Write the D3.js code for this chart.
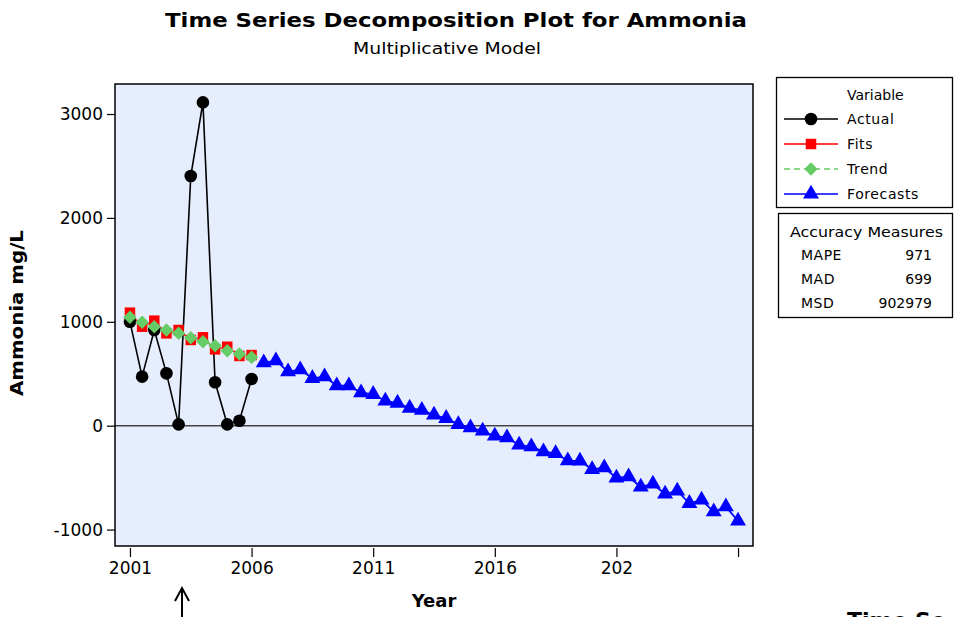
<!DOCTYPE html>
<html>
<head>
<meta charset="utf-8">
<script src="https://cdn.jsdelivr.net/npm/d3@7/dist/d3.min.js"></script>
<style>
  body { margin: 0; background: #fff; }
  text { font-family: "DejaVu Sans", sans-serif; fill: #000; }
</style>
</head>
<body>
<div id="chart"></div>
<script>
// semiannual index, 1 = first half 2001
var tickIdx = [1, 11, 21, 31, 41, 51];
var tickLabels = ["2001", "2006", "2011", "2016", "202", ""];
var yTicks = [-1000, 0, 1000, 2000, 3000];

var actual = [1000, 472, 921, 504, 13, 2403, 3112, 418, 13, 48, 449];
var fits = [1088, 953, 1011, 889, 921, 825, 851, 735, 760, 671, 680];
var trend = [1043, 995, 953, 921, 889, 847, 808, 770, 722, 690, 658];
var forecasts = [606, 626, 520, 539, 456, 472, 385, 385, 318, 302, 238, 218, 170, 150,
                 103, 71, 13, -19, -51, -99, -115, -186, -202, -250, -266, -337, -340,
                 -420, -404, -503, -491, -590, -561, -657, -628, -747, -715, -828, -780, -917];

var accNames = ["MAPE", "MAD", "MSD"];
var accValues = ["971", "699", "902979"];

var myChart = {};
(function(context) {

    var W = 955, H = 617;
    var plot = { left: 115, right: 753, top: 84, bottom: 546 };

    var svg = d3.select("#chart").append("svg")
        .attr("width", W)
        .attr("height", H);

    var x = d3.scaleLinear().domain([-0.23, 52.23]).range([plot.left, plot.right]);
    var y = d3.scaleLinear().domain([-1158, 3289]).range([plot.bottom, plot.top]);

    function toPts(arr, start) {
        return arr.map(function(v, i) { return { i: start + i, v: v }; });
    }
    var actPts = toPts(actual, 1);
    var fitPts = toPts(fits, 1);
    var trdPts = toPts(trend, 1);
    var fcPts = toPts(forecasts, 12);

    // titles
    svg.append("text").attr("x", 456).attr("y", 27)
        .attr("text-anchor", "middle")
        .style("font-size", "20px").style("font-weight", "bold")
        .attr("textLength", 582).attr("lengthAdjust", "spacingAndGlyphs")
        .text("Time Series Decomposition Plot for Ammonia");
    svg.append("text").attr("x", 447).attr("y", 54)
        .attr("text-anchor", "middle")
        .style("font-size", "16px")
        .attr("textLength", 188).attr("lengthAdjust", "spacingAndGlyphs")
        .text("Multiplicative Model");

    // plot background
    svg.append("rect")
        .attr("x", plot.left).attr("y", plot.top)
        .attr("width", plot.right - plot.left)
        .attr("height", plot.bottom - plot.top)
        .attr("fill", "#e6eefe");

    // zero reference
    svg.append("line")
        .attr("x1", plot.left).attr("x2", plot.right)
        .attr("y1", y(0)).attr("y2", y(0))
        .attr("stroke", "#444").attr("stroke-width", 1.5);

    // axes
    var yAxis = d3.axisLeft(y).tickValues(yTicks).tickSize(8).tickPadding(4)
        .tickFormat(function(d) { return String(d); });
    var gy = svg.append("g").attr("transform", "translate(" + plot.left + ",0)").call(yAxis);
    gy.select(".domain").remove();
    gy.selectAll("line").attr("stroke", "#000").attr("stroke-width", 1.2);
    gy.selectAll("text").style("font-size", "17px").style("font-family", "DejaVu Sans, sans-serif");

    var xAxis = d3.axisBottom(x).tickValues(tickIdx).tickSize(9).tickPadding(5)
        .tickFormat(function(d, i) { return tickLabels[i]; });
    var gx = svg.append("g").attr("transform", "translate(0," + (plot.bottom + 2) + ")").call(xAxis);
    gx.select(".domain").remove();
    gx.selectAll("line").attr("stroke", "#000").attr("stroke-width", 1.2);
    gx.selectAll("text").style("font-size", "17px").style("font-family", "DejaVu Sans, sans-serif");

    // axis titles
    svg.append("text").attr("x", 434).attr("y", 607)
        .attr("text-anchor", "middle")
        .style("font-size", "18px").style("font-weight", "bold")
        .text("Year");
    svg.append("text")
        .attr("transform", "translate(23,313) rotate(-90)")
        .attr("text-anchor", "middle")
        .style("font-size", "17px").style("font-weight", "bold")
        .attr("textLength", 166).attr("lengthAdjust", "spacingAndGlyphs")
        .text("Ammonia mg/L");

    var line = d3.line()
        .x(function(d) { return x(d.i); })
        .y(function(d) { return y(d.v); });

    // series lines
    svg.append("path").datum(actPts).attr("d", line)
        .attr("fill", "none").attr("stroke", "#000").attr("stroke-width", 1.6);
    svg.append("path").datum(fitPts).attr("d", line)
        .attr("fill", "none").attr("stroke", "#ff0000").attr("stroke-width", 1.2);
    svg.append("path").datum(trdPts).attr("d", line)
        .attr("fill", "none").attr("stroke", "#66cc66").attr("stroke-width", 1.2)
        .attr("stroke-dasharray", "6,4");
    svg.append("path").datum(fcPts).attr("d", line)
        .attr("fill", "none").attr("stroke", "#0000ff").attr("stroke-width", 1.8);

    var sym = {
        circle: d3.symbol().type(d3.symbolCircle).size(125),
        square: d3.symbol().type(d3.symbolSquare).size(110),
        diamond: d3.symbol().type(d3.symbolDiamond2).size(115),
        triangle: d3.symbol().type(d3.symbolTriangle).size(110)
    };

    function markers(pts, s, col) {
        svg.append("g").selectAll("path")
            .data(pts)
            .enter()
            .append("path")
            .attr("transform", function(d) { return "translate(" + x(d.i) + "," + y(d.v) + ")"; })
            .attr("d", s)
            .attr("fill", col);
    }
    markers(actPts, sym.circle, "#000");
    markers(fitPts, sym.square, "#ff0000");
    markers(trdPts, sym.diamond, "#66cc66");
    markers(fcPts, sym.triangle, "#0000ff");

    // frame
    svg.append("rect")
        .attr("x", plot.left).attr("y", plot.top)
        .attr("width", plot.right - plot.left)
        .attr("height", plot.bottom - plot.top)
        .attr("fill", "none").attr("stroke", "#000").attr("stroke-width", 1.5);

    // legend
    var leg = svg.append("g");
    leg.append("rect").attr("x", 776.5).attr("y", 77.5).attr("width", 176).attr("height", 130)
        .attr("fill", "#fff").attr("stroke", "#000").attr("stroke-width", 1.3);
    leg.append("text").attr("x", 847).attr("y", 100).style("font-size", "14px").text("Variable");

    var legItems = [
        { name: "Actual", col: "#000", s: sym.circle, dash: null },
        { name: "Fits", col: "#ff0000", s: sym.square, dash: null },
        { name: "Trend", col: "#66cc66", s: sym.diamond, dash: "6,4" },
        { name: "Forecasts", col: "#0000ff", s: sym.triangle, dash: "24,8" }
    ];
    legItems.forEach(function(it, k) {
        var ly = 119 + k * 25;
        leg.append("line").attr("x1", 784).attr("x2", 838).attr("y1", ly).attr("y2", ly)
            .attr("stroke", it.col).attr("stroke-width", 1.5)
            .attr("stroke-dasharray", it.dash);
        leg.append("path").attr("transform", "translate(811," + ly + ")")
            .attr("d", it.s).attr("fill", it.col);
        leg.append("text").attr("x", 847).attr("y", ly + 5)
            .style("font-size", "14px").style("letter-spacing", "0.6px").text(it.name);
    });

    // accuracy box
    var acc = svg.append("g");
    acc.append("rect").attr("x", 778.5).attr("y", 213.5).attr("width", 174).attr("height", 104)
        .attr("fill", "#fff").attr("stroke", "#000").attr("stroke-width", 1.3);
    acc.append("text").attr("x", 790).attr("y", 237).style("font-size", "14px")
        .attr("textLength", 153).attr("lengthAdjust", "spacingAndGlyphs")
        .text("Accuracy Measures");
    accNames.forEach(function(n, k) {
        var ay = 260 + k * 24;
        acc.append("text").attr("x", 801).attr("y", ay).style("font-size", "14px")
            .style("letter-spacing", "0.5px").text(n);
        acc.append("text").attr("x", 932).attr("y", ay).attr("text-anchor", "end")
            .style("font-size", "14px").text(accValues[k]);
    });

    // arrow below axis
    svg.append("path")
        .attr("d", "M182,617 L182,588 M175,601 L182,588 L189,601")
        .attr("fill", "none").attr("stroke", "#000").attr("stroke-width", 2);

    // heading of the next figure, cut off by the page edge as in the source
    svg.append("text").attr("x", 847).attr("y", 628)
        .style("font-size", "22px").style("font-weight", "bold")
        .text("Time Se");

})(myChart);
</script>
</body>
</html>
